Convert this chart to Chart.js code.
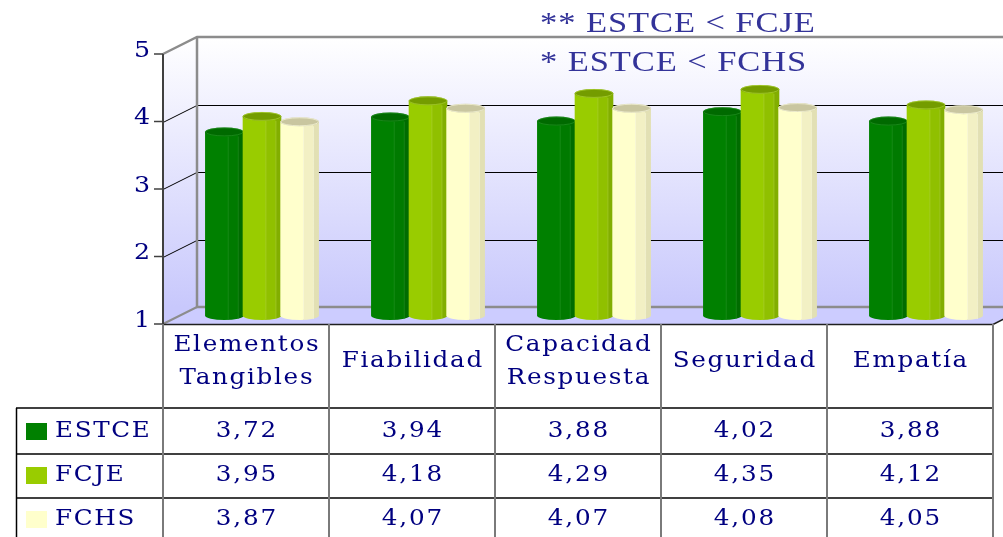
<!DOCTYPE html>
<html><head><meta charset="utf-8">
<script src="https://cdn.jsdelivr.net/npm/chart.js@4.4.1/dist/chart.umd.min.js"></script>
<style>html,body{margin:0;padding:0;background:#fff;}canvas{display:block;}</style>
</head><body>
<canvas id="c" width="1003" height="537" style="width:1003px;height:537px"></canvas>
<script>
const categories = [["Elementos","Tangibles"],["Fiabilidad"],["Capacidad","Respuesta"],["Seguridad"],["Empatía"]];
const seriesNames = ["ESTCE","FCJE","FCHS"];
const estce = [3.72, 3.94, 3.88, 4.02, 3.88];
const fcje  = [3.95, 4.18, 4.29, 4.35, 4.12];
const fchs  = [3.87, 4.07, 4.07, 4.08, 4.05];
const tableText = [
  ["3,72","3,94","3,88","4,02","3,88"],
  ["3,95","4,18","4,29","4,35","4,12"],
  ["3,87","4,07","4,07","4,08","4,05"]
];
const yTicks = [1,2,3,4,5];
const titleLines = ["** ESTCE < FCJE", "* ESTCE < FCHS"];

const faceColors = [
  {light:"#008000", mid:"#007a00", dark:"#006c00", cap:"#006a00", edge:"#2a9a2a"},
  {light:"#99cc00", mid:"#90c000", dark:"#82ae00", cap:"#749c00", edge:"#b8dc40"},
  {light:"#ffffcc", mid:"#f2f0c4", dark:"#e2e0b4", cap:"#c9c6a0", edge:"#ffffe6"}
];
const legendColors = ["#008000","#99cc00","#ffffcc"];
const DX = 34, DY = -17;
const NAVY = "#000080";

function txt(ctx, s, x, y, align, spacing, sx){
  sx = sx || 1;
  ctx.save();
  ctx.letterSpacing = spacing + "px";
  ctx.textAlign = "left";
  const w = (ctx.measureText(s).width - spacing) * sx;
  const left = align === "center" ? x - w/2 : (align === "right" ? x - w : x);
  ctx.translate(left, y);
  ctx.scale(sx, 1);
  ctx.fillText(s, 0, 0);
  ctx.restore();
}

const plugin3d = {
  id: "plugin3d",
  beforeDatasetsDraw(chart){
    const {ctx, chartArea:a, scales:{y}} = chart;
    const L = a.left, R = a.right, T = y.getPixelForValue(5), B = y.getPixelForValue(1);
    ctx.save();
    let g = ctx.createLinearGradient(0, T+DY, 0, B+DY);
    g.addColorStop(0, "#ffffff"); g.addColorStop(1, "#c8c8fc");
    ctx.fillStyle = g;
    ctx.fillRect(L+DX, T+DY, 1003-(L+DX), B-T);
    ctx.beginPath();
    ctx.moveTo(L, T); ctx.lineTo(L+DX, T+DY); ctx.lineTo(L+DX, B+DY); ctx.lineTo(L, B); ctx.closePath();
    ctx.fill();
    ctx.fillStyle = "#ccccff";
    ctx.beginPath();
    ctx.moveTo(L, B); ctx.lineTo(L+DX, B+DY); ctx.lineTo(R+DX, B+DY); ctx.lineTo(R, B); ctx.closePath();
    ctx.fill();
    ctx.strokeStyle = "#000"; ctx.lineWidth = 1;
    [2,3,4].forEach(v=>{
      const py = Math.round(y.getPixelForValue(v)) + 0.5;
      ctx.beginPath(); ctx.moveTo(L+DX, py+DY); ctx.lineTo(1003, py+DY); ctx.stroke();
      ctx.beginPath(); ctx.moveTo(L, py); ctx.lineTo(L+DX, py+DY); ctx.stroke();
    });
    ctx.strokeStyle = "#8c8c8c"; ctx.lineWidth = 2.5;
    ctx.beginPath(); ctx.moveTo(L, T); ctx.lineTo(L+DX, T+DY); ctx.lineTo(1003, T+DY); ctx.stroke();
    ctx.beginPath(); ctx.moveTo(L+DX, T+DY); ctx.lineTo(L+DX, B+DY); ctx.lineTo(1003, B+DY); ctx.stroke();
    ctx.lineWidth = 2;
    ctx.beginPath(); ctx.moveTo(L, B); ctx.lineTo(L+DX, B+DY); ctx.stroke();
    ctx.strokeStyle = "#404040"; ctx.lineWidth = 2;
    ctx.beginPath(); ctx.moveTo(L, T); ctx.lineTo(L, B); ctx.stroke();
    ctx.lineWidth = 1.5;
    yTicks.forEach(v=>{
      const py = y.getPixelForValue(v);
      ctx.beginPath(); ctx.moveTo(L-9, py); ctx.lineTo(L, py); ctx.stroke();
    });
    ctx.fillStyle = NAVY; ctx.font = '22px "DejaVu Serif"'; ctx.textBaseline = "middle";
    yTicks.forEach(v=>{
      txt(ctx, String(v), L-13, y.getPixelForValue(v)-3, "right", 0, 1.15);
    });
    ctx.restore();
  },
  afterDatasetsDraw(chart){
    const {ctx, chartArea:a, scales:{x,y}} = chart;
    const L = a.left, R = a.right, B = y.getPixelForValue(1);
    ctx.save();
    const ry = 4.5;
    for (let i = 0; i < categories.length; i++){
      for (let d = 0; d < 3; d++){
        const el = chart.getDatasetMeta(d).data[i];
        const w = el.width + 1;
        const x0 = el.x - w/2 + DX/2 - 1;
        const top = el.y + DY/2;
        const base = B + DY/2;
        const c = faceColors[d];
        const g = ctx.createLinearGradient(x0, 0, x0+w, 0);
        g.addColorStop(0, c.light); g.addColorStop(0.58, c.light);
        g.addColorStop(0.6, c.mid); g.addColorStop(0.84, c.mid);
        g.addColorStop(0.86, c.dark); g.addColorStop(1, c.dark);
        ctx.fillStyle = g;
        ctx.beginPath();
        ctx.moveTo(x0, top);
        ctx.lineTo(x0, base);
        ctx.ellipse(x0+w/2, base, w/2, ry, 0, Math.PI, 0, true);
        ctx.lineTo(x0+w, top);
        ctx.closePath();
        ctx.fill();
        ctx.strokeStyle = c.edge; ctx.globalAlpha = 0.5; ctx.lineWidth = 1;
        ctx.beginPath(); ctx.moveTo(x0+w*0.6, top+ry); ctx.lineTo(x0+w*0.6, base+ry-1); ctx.stroke();
        ctx.beginPath(); ctx.moveTo(x0+w*0.86, top+ry); ctx.lineTo(x0+w*0.86, base+ry-1); ctx.stroke();
        ctx.globalAlpha = 1;
        ctx.fillStyle = c.cap;
        ctx.beginPath(); ctx.ellipse(x0+w/2, top, w/2, ry, 0, 0, Math.PI*2); ctx.fill();
        ctx.strokeStyle = c.edge; ctx.globalAlpha = 0.6;
        ctx.beginPath(); ctx.ellipse(x0+w/2, top, w/2-0.5, ry-0.5, 0, 0, Math.PI*2); ctx.stroke();
        ctx.globalAlpha = 1;
      }
    }
    ctx.fillStyle = "#333399"; ctx.font = '30px "Liberation Serif"'; ctx.textBaseline = "alphabetic";
    txt(ctx, titleLines[0], 540, 32, "left", 0.8, 1.15);
    txt(ctx, titleLines[1], 540, 71, "left", 0.8, 1.15);

    const colW = (R - L) / categories.length;
    ctx.strokeStyle = "#202020"; ctx.lineWidth = 1.5;
    ctx.beginPath(); ctx.moveTo(L, B+0.5); ctx.lineTo(R, B+0.5); ctx.lineTo(R+DX, B+DY); ctx.stroke();
    ctx.strokeStyle = "#000"; ctx.lineWidth = 1.5;
    [408, 454, 498].forEach(py=>{
      ctx.beginPath(); ctx.moveTo(16, py); ctx.lineTo(R, py); ctx.stroke();
    });
    ctx.beginPath(); ctx.moveTo(16.5, 408); ctx.lineTo(16.5, 537); ctx.stroke();
    ctx.strokeStyle = "#7a7a7a"; ctx.lineWidth = 2;
    for (let i = 0; i <= categories.length; i++){
      const px = L + i*colW;
      ctx.beginPath(); ctx.moveTo(px, B); ctx.lineTo(px, 537); ctx.stroke();
    }
    ctx.fillStyle = NAVY; ctx.font = '22px "DejaVu Serif"'; ctx.textBaseline = "middle";
    for (let i = 0; i < categories.length; i++){
      const cx = x.getPixelForValue(i);
      const lines = categories[i];
      if (lines.length === 2){
        txt(ctx, lines[0], cx, 345, "center", 1.5, 1.12);
        txt(ctx, lines[1], cx, 378, "center", 1.5, 1.12);
      } else {
        txt(ctx, lines[0], cx, 361, "center", 1.5, 1.12);
      }
    }
    const rowCy = [431, 475, 519];
    for (let r = 0; r < 3; r++){
      ctx.fillStyle = legendColors[r];
      ctx.fillRect(26, rowCy[r]-8, 21, 17);
      ctx.fillStyle = NAVY;
      txt(ctx, seriesNames[r], 55, rowCy[r], "left", 1.5, 1.12);
      for (let i = 0; i < categories.length; i++){
        txt(ctx, tableText[r][i], x.getPixelForValue(i), rowCy[r], "center", 1.7, 1.12);
      }
    }
    ctx.restore();
  }
};

new Chart(document.getElementById("c"), {
  type: "bar",
  data: {
    labels: categories.map(c => c.join(" ")),
    datasets: [
      {label: seriesNames[0], data: estce, backgroundColor: "rgba(0,0,0,0)", borderWidth: 0},
      {label: seriesNames[1], data: fcje, backgroundColor: "rgba(0,0,0,0)", borderWidth: 0},
      {label: seriesNames[2], data: fchs, backgroundColor: "rgba(0,0,0,0)", borderWidth: 0}
    ]
  },
  options: {
    responsive: false, animation: false, devicePixelRatio: 1,
    layout: {padding: {left: 163, right: 10, top: 54, bottom: 213}},
    plugins: {legend: {display: false}, tooltip: {enabled: false}},
    datasets: {bar: {categoryPercentage: 0.68, barPercentage: 1.0}},
    scales: {
      x: {display: false, offset: true},
      y: {display: false, min: 1, max: 5}
    }
  },
  plugins: [plugin3d]
});
</script>
</body></html>
